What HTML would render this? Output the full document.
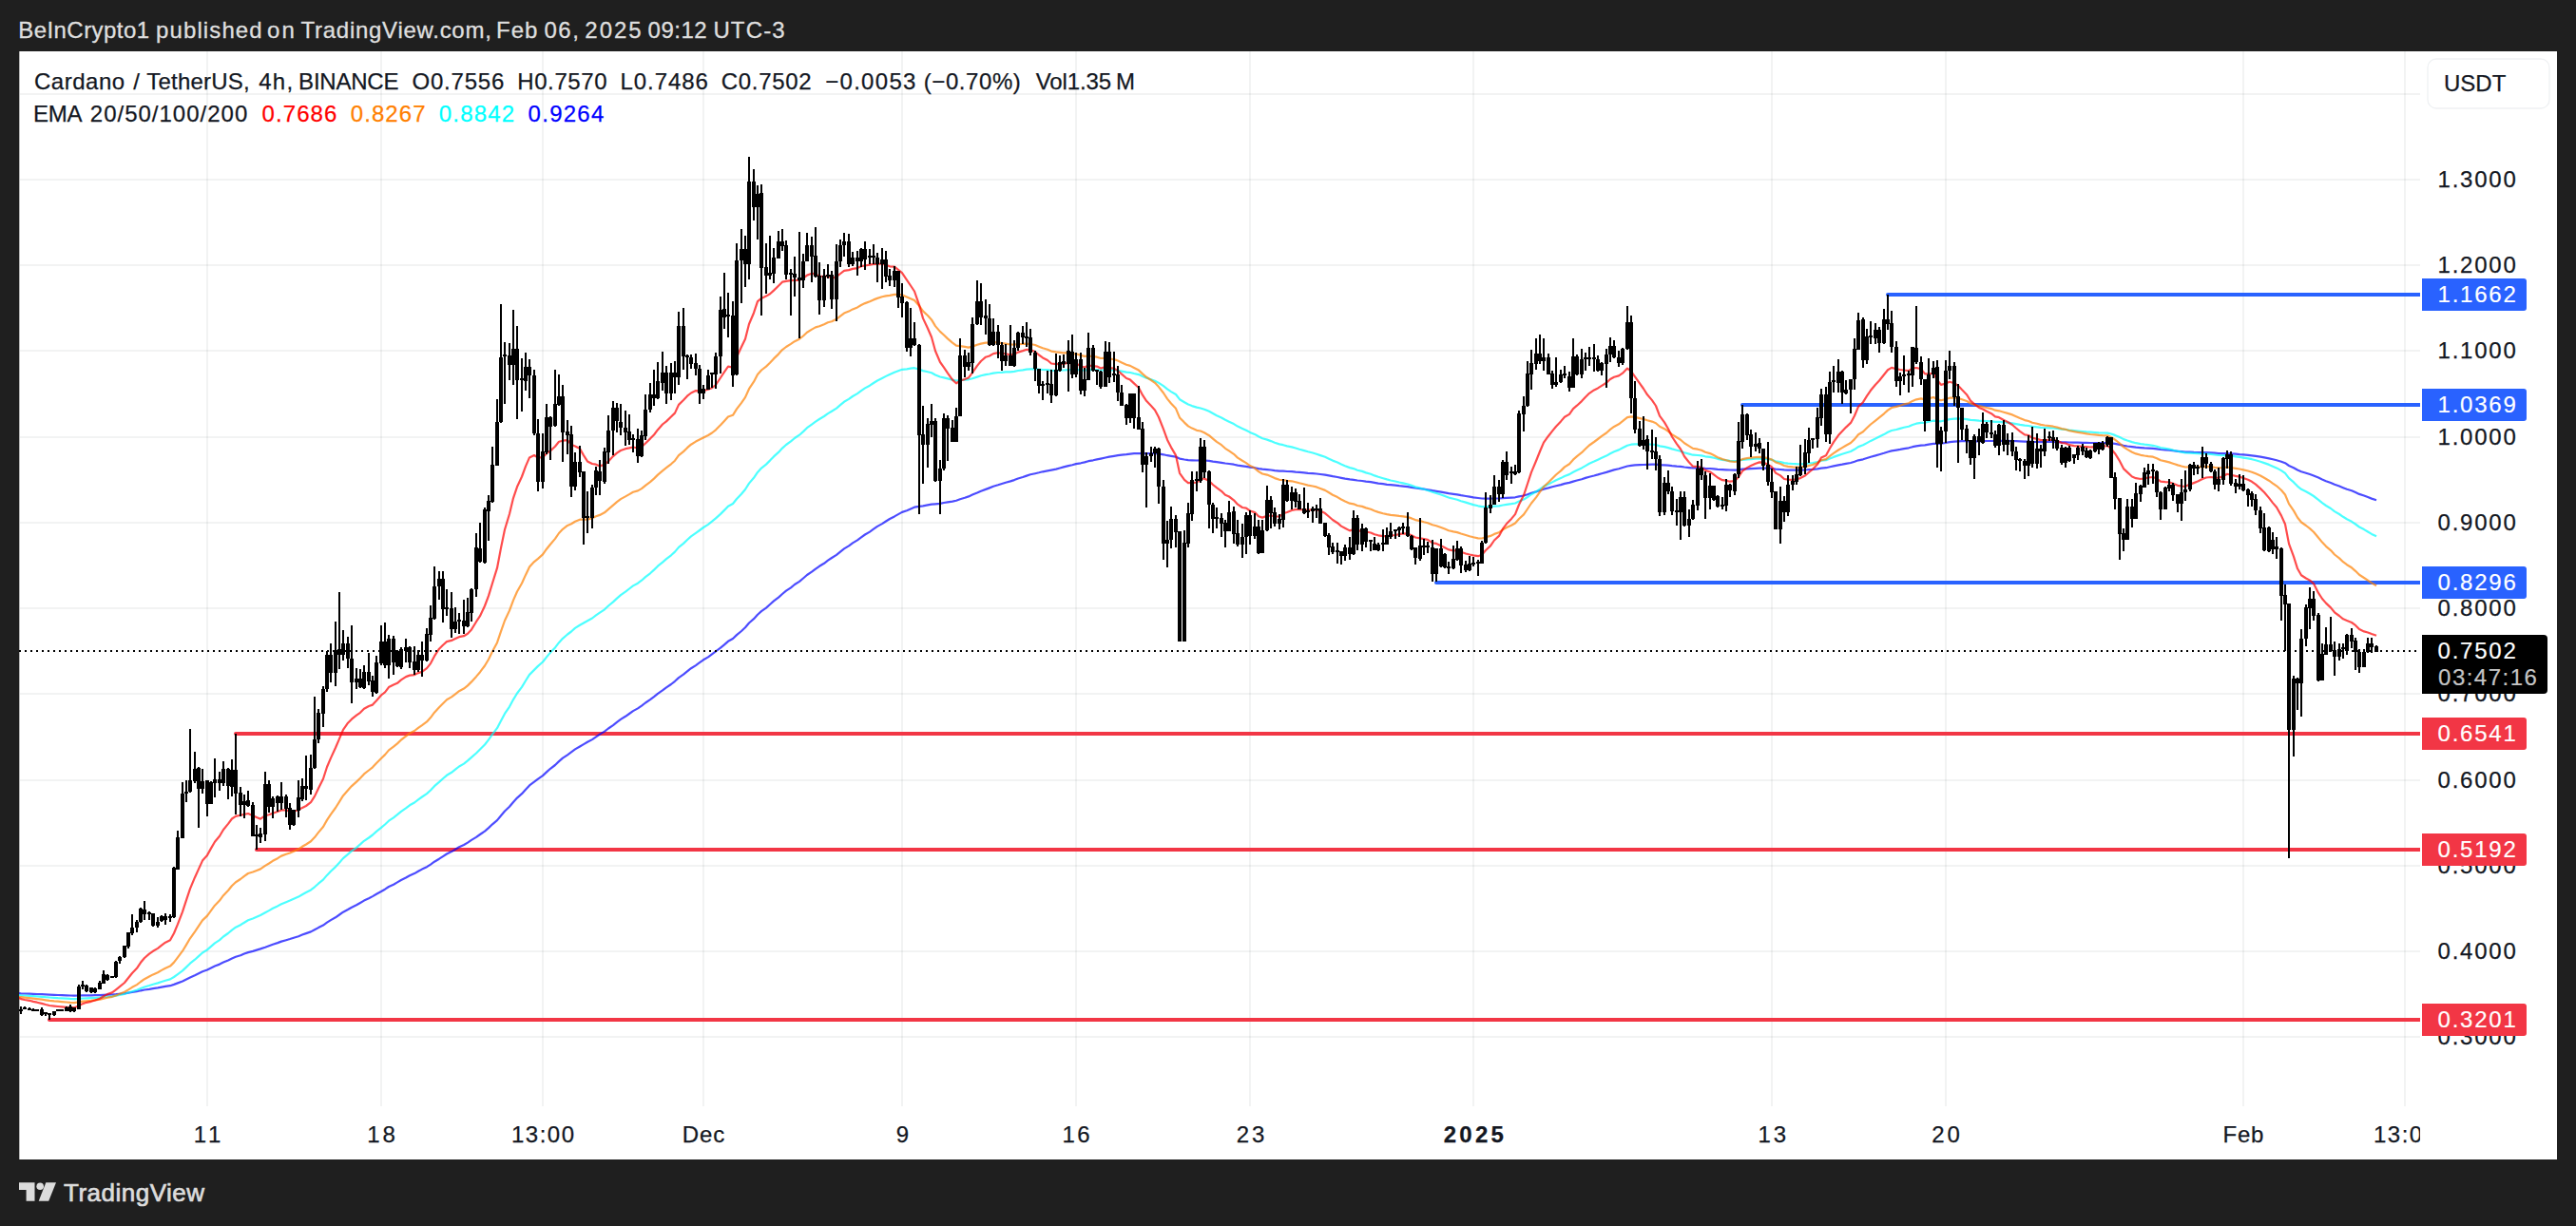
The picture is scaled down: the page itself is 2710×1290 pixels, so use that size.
<!DOCTYPE html><html><head><meta charset="utf-8"><title>ADAUSDT chart</title>
<style>html,body{margin:0;padding:0;background:#1f1f1f;}body{width:2710px;height:1290px;overflow:hidden}svg{display:block}text{font-family:"Liberation Sans", Arial, sans-serif;font-size:24px}.d{stroke:#131722;stroke-width:0.25px}</style></head><body>
<svg width="2710" height="1290" viewBox="0 0 2710 1290">
<rect x="0" y="0" width="2710" height="1290" fill="#1f1f1f"/>
<rect x="20" y="54" width="2670" height="1166" fill="#ffffff"/>
<text x="19.2" y="40" fill="#dedede" stroke="#dedede" stroke-width="0.35" letter-spacing="0.450">BeInCrypto1</text>
<text x="164.0" y="40" fill="#dedede" stroke="#dedede" stroke-width="0.35" letter-spacing="1.112">published</text>
<text x="281.1" y="40" fill="#dedede" stroke="#dedede" stroke-width="0.35" letter-spacing="2.100">on</text>
<text x="316.6" y="40" fill="#dedede" stroke="#dedede" stroke-width="0.35" letter-spacing="0.720">TradingView.com,</text>
<text x="522.1" y="40" fill="#dedede" stroke="#dedede" stroke-width="0.35" letter-spacing="1.000">Feb</text>
<text x="572.5" y="40" fill="#dedede" stroke="#dedede" stroke-width="0.35" letter-spacing="1.500">06,</text>
<text x="615.3" y="40" fill="#dedede" stroke="#dedede" stroke-width="0.35" letter-spacing="2.000">2025</text>
<text x="681.6" y="40" fill="#dedede" stroke="#dedede" stroke-width="0.35" letter-spacing="0.500">09:12</text>
<text x="750.4" y="40" fill="#dedede" stroke="#dedede" stroke-width="0.35" letter-spacing="1.150">UTC-3</text>
<path d="M20 99H2546M20 189H2546M20 279H2546M20 369H2546M20 460H2546M20 550H2546M20 640H2546M20 730H2546M20 821H2546M20 911H2546M20 1001H2546M20 1091H2546" stroke="#2a3a3a" stroke-opacity="0.062" stroke-width="2" fill="none"/>
<path d="M218 54V1164M401 54V1164M571 54V1164M740 54V1164M949 54V1164M1132 54V1164M1315 54V1164M1550 54V1164M1864 54V1164M2047 54V1164M2360 54V1164M2530 54V1164" stroke="#2a3a3a" stroke-opacity="0.062" stroke-width="2" fill="none"/>
<path d="M20.5 54V1220" stroke="#b8b8b8" stroke-width="1" fill="none"/>
<defs><clipPath id="pane"><rect x="20" y="54" width="2526" height="1110"/></clipPath><clipPath id="tax"><rect x="20" y="1164" width="2526" height="56"/></clipPath></defs>
<text class="d" x="2564.6" y="197.3" fill="#131722" letter-spacing="1.75">1.3000</text>
<text class="d" x="2564.6" y="287.3" fill="#131722" letter-spacing="1.75">1.2000</text>
<text class="d" x="2564.6" y="377.3" fill="#131722" letter-spacing="1.75">1.1000</text>
<text class="d" x="2564.6" y="468.3" fill="#131722" letter-spacing="1.75">1.0000</text>
<text class="d" x="2564.6" y="558.3" fill="#131722" letter-spacing="1.75">0.9000</text>
<text class="d" x="2564.6" y="648.3" fill="#131722" letter-spacing="1.75">0.8000</text>
<text class="d" x="2564.6" y="738.3" fill="#131722" letter-spacing="1.75">0.7000</text>
<text class="d" x="2564.6" y="829.3" fill="#131722" letter-spacing="1.75">0.6000</text>
<text class="d" x="2564.6" y="919.3" fill="#131722" letter-spacing="1.75">0.5000</text>
<text class="d" x="2564.6" y="1009.3" fill="#131722" letter-spacing="1.75">0.4000</text>
<text class="d" x="2564.6" y="1099.3" fill="#131722" letter-spacing="1.75">0.3000</text>
<g clip-path="url(#tax)">
<text class="d" x="218.0" y="1201.5" text-anchor="middle" fill="#131722" textLength="28.5" lengthAdjust="spacing">11</text>
<text class="d" x="401.0" y="1201.5" text-anchor="middle" fill="#131722" textLength="29.5" lengthAdjust="spacing">18</text>
<text class="d" x="571.0" y="1201.5" text-anchor="middle" fill="#131722" textLength="66.0" lengthAdjust="spacing">13:00</text>
<text class="d" x="740.0" y="1201.5" text-anchor="middle" fill="#131722" textLength="44.3" lengthAdjust="spacing">Dec</text>
<text class="d" x="949.4" y="1201.5" text-anchor="middle" fill="#131722" textLength="13.4" lengthAdjust="spacing">9</text>
<text class="d" x="1132.0" y="1201.5" text-anchor="middle" fill="#131722" textLength="29.0" lengthAdjust="spacing">16</text>
<text class="d" x="1315.5" y="1201.5" text-anchor="middle" fill="#131722" textLength="29.5" lengthAdjust="spacing">23</text>
<text class="d" x="1550.3" y="1201.5" text-anchor="middle" fill="#131722" textLength="63.0" lengthAdjust="spacing" font-weight="bold">2025</text>
<text class="d" x="1864.3" y="1201.5" text-anchor="middle" fill="#131722" textLength="29.5" lengthAdjust="spacing">13</text>
<text class="d" x="2047.0" y="1201.5" text-anchor="middle" fill="#131722" textLength="29.5" lengthAdjust="spacing">20</text>
<text class="d" x="2360.0" y="1201.5" text-anchor="middle" fill="#131722" textLength="42.8" lengthAdjust="spacing">Feb</text>
<text class="d" x="2530.0" y="1201.5" text-anchor="middle" fill="#131722" textLength="66.0" lengthAdjust="spacing">13:00</text>
</g>
<g clip-path="url(#pane)">
<path d="M1986 310H2550" stroke="#2962ff" stroke-width="4" stroke-linecap="round" fill="none"/>
<path d="M1833 426H2550" stroke="#2962ff" stroke-width="4" stroke-linecap="round" fill="none"/>
<path d="M1511 613H2550" stroke="#2962ff" stroke-width="4" stroke-linecap="round" fill="none"/>
<path d="M248 772H2550" stroke="#f23645" stroke-width="4" stroke-linecap="round" fill="none"/>
<path d="M270 894H2550" stroke="#f23645" stroke-width="4" stroke-linecap="round" fill="none"/>
<path d="M52 1073H2550" stroke="#f23645" stroke-width="4" stroke-linecap="round" fill="none"/>
<polyline points="20,1045.2 22,1045.4 26,1045.5 31,1045.7 35,1045.8 39,1046.0 44,1046.2 48,1046.4 52,1046.6 57,1046.8 61,1047.0 65,1047.1 70,1047.3 74,1047.5 78,1047.6 83,1047.5 87,1047.4 91,1047.4 96,1047.3 100,1047.2 105,1047.1 109,1046.9 113,1046.7 118,1046.5 122,1046.2 126,1045.8 131,1045.3 135,1044.6 139,1044.0 144,1043.2 148,1042.3 152,1041.5 157,1040.8 161,1040.1 166,1039.4 170,1038.6 174,1037.9 179,1037.2 183,1035.9 187,1034.4 192,1032.4 196,1030.4 200,1028.4 205,1026.2 209,1024.2 213,1022.2 218,1020.5 222,1018.5 226,1016.5 231,1014.6 235,1012.6 240,1010.5 244,1008.5 248,1006.8 253,1005.2 257,1003.6 261,1002.1 266,1000.9 270,999.6 274,998.4 279,996.7 283,995.2 287,993.7 292,992.1 296,990.6 301,989.2 305,988.0 309,986.7 314,985.2 318,983.6 322,982.1 327,980.4 331,978.3 335,976.1 340,973.6 344,970.7 348,968.1 353,965.3 357,962.5 361,959.7 366,957.0 370,954.7 375,952.3 379,950.0 383,947.6 388,945.3 392,943.1 396,940.7 401,938.0 405,935.7 409,933.0 414,930.7 418,928.4 422,926.0 427,923.5 431,921.3 436,919.1 440,916.8 444,914.6 449,912.2 453,909.6 457,906.7 462,903.7 466,901.1 470,898.5 475,896.1 479,893.7 483,891.3 488,889.0 492,886.6 496,883.9 501,880.9 505,878.0 510,874.6 514,871.1 518,867.3 523,863.1 527,858.3 531,853.5 536,848.8 540,844.0 544,839.6 549,835.2 553,830.7 557,826.4 562,822.7 566,819.6 571,816.1 575,812.4 579,808.8 584,805.0 588,801.1 592,797.6 597,794.3 601,791.4 605,788.4 610,785.5 614,783.1 618,780.8 623,778.1 627,775.3 631,772.6 636,769.6 640,766.5 645,763.1 649,759.9 653,756.9 658,753.8 662,751.0 666,748.1 671,745.4 675,742.6 679,739.5 684,736.2 688,733.1 692,729.8 697,726.4 701,723.3 706,720.0 710,716.8 714,713.1 719,709.7 723,706.4 727,703.2 732,700.1 736,697.2 740,694.3 745,691.4 749,688.4 753,685.3 758,681.7 762,678.3 766,674.8 771,672.0 775,668.1 780,664.0 784,660.2 788,655.5 793,651.2 797,646.7 801,643.1 806,639.6 810,636.0 814,632.4 819,628.6 823,625.0 827,621.6 832,618.3 836,615.0 841,611.9 845,608.5 849,605.0 854,601.7 858,598.6 862,595.8 867,592.8 871,589.7 875,587.0 880,583.9 884,580.6 888,577.4 893,574.4 897,571.4 902,568.4 906,565.4 910,562.5 915,559.6 919,556.7 923,553.9 928,551.1 932,548.5 936,546.0 941,543.4 945,541.1 949,538.9 954,537.2 958,535.4 962,533.7 967,532.9 971,532.3 976,531.4 980,530.6 984,530.3 989,529.9 993,529.0 997,528.3 1002,527.6 1006,526.7 1010,525.2 1015,523.8 1019,522.4 1023,520.6 1028,518.6 1032,516.7 1037,514.9 1041,513.4 1045,511.8 1050,510.3 1054,509.0 1058,507.7 1063,506.4 1067,505.1 1071,503.5 1076,502.0 1080,500.6 1084,499.3 1089,498.2 1093,497.3 1097,496.3 1102,495.4 1106,494.6 1111,493.6 1115,492.5 1119,491.4 1124,490.1 1128,489.2 1132,488.1 1137,487.3 1141,486.4 1145,485.2 1150,484.3 1154,483.4 1158,482.6 1163,481.5 1167,480.7 1172,479.8 1176,479.1 1180,478.6 1185,478.2 1189,477.6 1193,477.2 1198,477.0 1202,477.1 1206,477.1 1211,477.1 1215,477.1 1219,477.4 1224,478.3 1228,479.2 1232,479.9 1237,480.7 1241,482.6 1246,483.5 1250,484.1 1254,484.3 1259,484.5 1263,484.4 1267,484.5 1272,484.9 1276,485.6 1280,486.1 1285,486.8 1289,487.5 1293,488.0 1298,488.7 1302,489.6 1307,490.3 1311,490.8 1315,491.6 1320,492.2 1324,493.1 1328,493.7 1333,494.1 1337,494.5 1341,495.1 1346,495.6 1350,495.7 1354,496.0 1359,496.2 1363,496.6 1367,496.9 1372,497.4 1376,497.8 1381,498.1 1385,498.5 1389,499.0 1394,499.7 1398,500.4 1402,501.2 1407,502.0 1411,502.8 1415,503.6 1420,504.4 1424,504.8 1428,505.5 1433,506.0 1437,506.6 1442,507.2 1446,507.9 1450,508.6 1455,509.2 1459,509.8 1463,510.2 1468,510.7 1472,511.2 1476,511.6 1481,512.1 1485,512.8 1489,513.5 1494,514.1 1498,514.7 1502,515.3 1507,516.2 1511,516.8 1516,517.6 1520,518.4 1524,519.2 1529,519.9 1533,520.4 1537,521.2 1542,522.0 1546,522.7 1550,523.4 1555,524.0 1559,524.5 1563,524.6 1568,524.7 1572,524.5 1577,524.5 1581,524.1 1585,523.9 1590,523.6 1594,523.3 1598,522.4 1603,521.5 1607,520.2 1611,518.8 1616,517.4 1620,516.0 1624,514.6 1629,513.4 1633,512.3 1637,511.2 1642,510.1 1646,508.9 1651,507.9 1655,506.6 1659,505.5 1664,504.2 1668,502.9 1672,501.7 1677,500.5 1681,499.4 1685,498.2 1690,496.9 1694,495.6 1698,494.4 1703,493.3 1707,492.0 1712,490.5 1716,489.8 1720,489.4 1725,489.2 1729,489.0 1733,488.8 1738,488.7 1742,488.7 1746,489.2 1751,489.3 1755,489.6 1759,490.1 1764,490.6 1768,490.9 1772,491.5 1777,492.1 1781,492.5 1786,492.5 1790,492.5 1794,492.9 1799,493.0 1803,493.4 1807,493.8 1812,494.1 1816,494.3 1820,494.5 1825,494.6 1829,494.3 1833,493.7 1838,493.3 1842,493.1 1847,492.8 1851,492.6 1855,492.6 1860,492.7 1864,493.0 1868,493.6 1873,494.0 1877,494.4 1881,494.6 1886,494.7 1890,494.7 1894,494.7 1899,494.5 1903,494.2 1907,493.9 1912,493.3 1916,492.6 1921,492.2 1925,491.3 1929,490.4 1934,489.4 1938,488.7 1942,487.9 1947,487.0 1951,485.8 1955,484.3 1960,483.3 1964,482.0 1968,480.7 1973,479.4 1977,478.2 1982,476.8 1986,475.5 1990,474.4 1995,473.6 1999,472.9 2003,472.1 2008,471.3 2012,470.2 2016,469.4 2021,468.7 2025,468.4 2029,467.7 2034,466.9 2038,466.9 2042,466.7 2047,466.0 2051,465.2 2056,464.7 2060,464.3 2064,464.2 2069,464.2 2073,464.4 2077,464.3 2082,464.3 2086,464.1 2090,464.0 2095,464.0 2099,464.0 2103,463.9 2108,463.9 2112,463.9 2117,464.0 2121,464.2 2125,464.4 2130,464.7 2134,464.7 2138,464.9 2143,465.0 2147,465.1 2151,465.0 2156,465.0 2160,465.0 2164,465.1 2169,465.3 2173,465.3 2177,465.5 2182,465.7 2186,465.7 2191,465.8 2195,465.9 2199,466.0 2204,466.0 2208,466.0 2212,466.0 2217,466.0 2221,466.3 2225,466.9 2230,467.9 2234,468.8 2238,469.5 2243,470.2 2247,470.7 2252,471.1 2256,471.4 2260,471.6 2265,471.9 2269,472.3 2273,473.0 2278,473.4 2282,473.7 2286,474.2 2291,474.8 2295,475.2 2299,475.6 2304,475.7 2308,475.9 2312,476.0 2317,476.1 2321,476.2 2326,476.4 2330,476.7 2334,477.0 2339,477.1 2343,477.1 2347,477.4 2352,477.7 2356,478.1 2360,478.4 2365,478.9 2369,479.3 2373,479.9 2378,480.7 2382,481.4 2387,482.4 2391,483.3 2395,484.3 2400,485.7 2404,487.2 2408,490.0 2413,492.2 2417,494.5 2421,496.2 2426,497.7 2430,499.0 2434,500.5 2439,502.6 2443,504.5 2447,506.2 2452,508.0 2456,509.8 2461,511.5 2465,513.2 2469,514.8 2474,516.3 2478,518.0 2482,519.9 2487,521.5 2491,523.1 2495,524.6 2500,526.2" stroke="#0000ff" stroke-width="2.2" stroke-opacity="0.7" fill="none" stroke-linejoin="round"/>
<polyline points="20,1047.0 22,1047.3 26,1047.5 31,1047.8 35,1048.1 39,1048.4 44,1048.8 48,1049.2 52,1049.5 57,1049.8 61,1050.1 65,1050.3 70,1050.6 74,1050.9 78,1051.1 83,1050.8 87,1050.5 91,1050.4 96,1050.2 100,1050.0 105,1049.7 109,1049.2 113,1048.8 118,1048.4 122,1047.6 126,1046.8 131,1045.8 135,1044.5 139,1043.2 144,1041.7 148,1040.0 152,1038.5 157,1037.0 161,1035.7 166,1034.4 170,1033.0 174,1031.7 179,1030.4 183,1028.0 187,1025.1 192,1021.4 196,1017.6 200,1013.7 205,1009.7 209,1006.1 213,1002.5 218,999.4 222,995.9 226,992.4 231,989.1 235,985.5 240,982.0 244,978.6 248,975.7 253,973.2 257,970.7 261,968.3 266,966.5 270,964.8 274,963.0 279,960.3 283,958.1 287,955.8 292,953.4 296,951.2 301,949.2 305,947.6 309,945.7 314,943.6 318,941.2 322,939.0 327,936.4 331,933.3 335,929.7 340,925.6 344,920.9 348,916.7 353,912.1 357,907.7 361,903.1 366,898.9 370,895.4 375,891.8 379,888.4 383,884.8 388,881.5 392,878.5 396,874.9 401,870.9 405,867.5 409,863.7 414,860.4 418,857.2 422,853.8 427,850.4 431,847.3 436,844.5 440,841.4 444,838.5 449,835.1 453,831.5 457,827.2 462,822.9 466,819.3 470,815.8 475,812.8 479,809.6 483,806.5 488,803.6 492,800.4 496,796.9 501,792.5 505,788.5 510,783.5 514,778.4 518,772.7 523,766.2 527,758.5 531,750.9 536,743.6 540,736.1 544,729.5 549,722.9 553,716.3 557,709.9 562,704.9 566,700.9 571,696.5 575,691.4 579,686.6 584,681.4 588,676.2 592,671.8 597,667.5 601,664.5 605,660.9 610,657.7 614,655.5 618,653.3 623,650.5 627,647.4 631,644.6 636,641.3 640,637.5 645,633.4 649,629.6 653,626.1 658,622.7 662,619.5 666,616.4 671,613.7 675,610.7 679,607.1 684,603.3 688,599.6 692,595.7 697,591.7 701,588.2 706,584.3 710,580.6 714,575.9 719,571.9 723,568.0 727,564.4 732,560.9 736,558.0 740,555.0 745,551.9 749,548.7 753,545.3 758,540.9 762,536.9 766,532.8 771,530.0 775,525.0 780,519.8 784,515.0 788,508.6 793,502.8 797,496.9 801,492.6 806,488.6 810,484.6 814,480.4 819,475.9 823,471.6 827,468.0 832,464.4 836,461.0 841,457.7 845,454.1 849,450.2 854,446.6 858,443.6 862,441.0 867,438.0 871,435.1 875,432.7 880,429.6 884,426.2 888,422.8 893,419.9 897,417.0 902,414.1 906,411.1 910,408.4 915,405.7 919,403.0 923,400.5 928,398.0 932,395.9 936,393.9 941,391.7 945,390.2 949,388.8 954,388.3 958,387.7 962,387.2 967,388.6 971,390.1 976,391.3 980,392.3 984,394.5 989,396.5 993,397.4 997,398.4 1002,399.7 1006,400.5 1010,400.0 1015,399.7 1019,399.3 1023,398.2 1028,396.6 1032,395.3 1037,394.1 1041,393.5 1045,392.6 1050,392.0 1054,391.8 1058,391.4 1063,391.3 1067,390.8 1071,390.0 1076,389.3 1080,388.6 1084,388.3 1089,388.3 1093,388.7 1097,389.0 1102,389.2 1106,389.8 1111,389.8 1115,389.6 1119,389.5 1124,389.1 1128,389.2 1132,388.9 1137,389.4 1141,389.6 1145,389.1 1150,389.1 1154,389.2 1158,389.5 1163,389.1 1167,389.3 1172,389.4 1176,389.9 1180,390.6 1185,391.6 1189,392.0 1193,393.0 1198,394.1 1202,396.0 1206,397.7 1211,399.2 1215,400.7 1219,402.9 1224,406.2 1228,409.4 1232,412.1 1237,415.0 1241,420.2 1246,423.2 1250,425.5 1254,427.1 1259,428.6 1263,429.5 1267,430.8 1272,432.8 1276,435.0 1280,437.2 1285,439.5 1289,441.8 1293,443.7 1298,446.1 1302,448.6 1307,450.9 1311,452.7 1315,454.9 1320,456.9 1324,459.3 1328,461.3 1333,462.6 1337,464.1 1341,465.8 1346,467.4 1350,468.2 1354,469.4 1359,470.4 1363,471.5 1367,472.8 1372,474.1 1376,475.3 1381,476.5 1385,477.7 1389,479.1 1394,480.8 1398,482.7 1402,484.6 1407,486.5 1411,488.5 1415,490.2 1420,492.1 1424,493.1 1428,494.7 1433,495.9 1437,497.4 1442,498.8 1446,500.4 1450,501.8 1455,503.2 1459,504.4 1463,505.5 1468,506.5 1472,507.5 1476,508.4 1481,509.5 1485,510.9 1489,512.4 1494,513.6 1498,514.8 1502,516.0 1507,517.7 1511,518.9 1516,520.5 1520,522.0 1524,523.5 1529,524.8 1533,525.8 1537,527.2 1542,528.6 1546,529.9 1550,531.1 1555,532.3 1559,533.1 1563,533.1 1568,533.1 1572,532.7 1577,532.4 1581,531.5 1585,530.9 1590,530.2 1594,529.5 1598,527.6 1603,525.6 1607,523.0 1611,520.2 1616,517.3 1620,514.6 1624,511.8 1629,509.5 1633,507.4 1637,505.3 1642,503.1 1646,501.0 1651,499.1 1655,496.7 1659,494.7 1664,492.4 1668,490.1 1672,487.8 1677,485.6 1681,483.7 1685,481.7 1690,479.6 1694,477.3 1698,475.3 1703,473.4 1707,471.3 1712,468.7 1716,467.7 1720,467.4 1725,467.4 1729,467.3 1733,467.5 1738,467.7 1742,468.0 1746,469.4 1751,470.1 1755,471.1 1759,472.4 1764,473.7 1768,474.7 1772,476.3 1777,477.6 1781,478.7 1786,479.0 1790,479.4 1794,480.3 1799,480.9 1803,481.8 1807,482.8 1812,483.8 1816,484.3 1820,484.9 1825,485.2 1829,484.8 1833,483.8 1838,483.3 1842,483.1 1847,482.7 1851,482.5 1855,482.7 1860,483.2 1864,483.8 1868,485.3 1873,486.1 1877,487.1 1881,487.6 1886,488.0 1890,488.2 1894,488.3 1899,488.0 1903,487.5 1907,487.1 1912,486.1 1916,484.7 1921,484.2 1925,482.5 1929,480.9 1934,479.1 1938,477.8 1942,476.5 1947,475.0 1951,472.8 1955,470.1 1960,468.3 1964,466.1 1968,463.9 1973,461.6 1977,459.6 1982,457.1 1986,454.8 1990,453.0 1995,452.0 1999,450.9 2003,449.8 2008,448.7 2012,447.0 2016,445.7 2021,444.8 2025,444.8 2029,443.7 2034,442.6 2038,443.1 2042,443.3 2047,442.2 2051,441.1 2056,440.7 2060,440.4 2064,440.6 2069,441.1 2073,441.9 2077,442.2 2082,442.7 2086,442.8 2090,443.0 2095,443.3 2099,443.8 2103,443.9 2108,444.3 2112,444.7 2117,445.3 2121,446.1 2125,446.9 2130,447.7 2134,448.0 2138,448.8 2143,449.3 2147,449.8 2151,450.0 2156,450.3 2160,450.5 2164,451.0 2169,451.7 2173,452.0 2177,452.7 2182,453.2 2186,453.6 2191,454.0 2195,454.4 2199,454.7 2204,455.0 2208,455.3 2212,455.5 2217,455.6 2221,456.5 2225,457.9 2230,460.0 2234,462.1 2238,463.5 2243,465.1 2247,466.2 2252,467.1 2256,467.7 2260,468.2 2265,468.8 2269,469.8 2273,471.1 2278,471.9 2282,472.6 2286,473.6 2291,474.7 2295,475.6 2299,476.4 2304,476.6 2308,476.9 2312,477.2 2317,477.3 2321,477.5 2326,477.9 2330,478.5 2334,479.0 2339,479.1 2343,479.1 2347,479.7 2352,480.3 2356,480.9 2360,481.6 2365,482.4 2369,483.2 2373,484.3 2378,485.7 2382,487.1 2387,488.9 2391,490.7 2395,492.4 2400,495.1 2404,497.9 2408,503.2 2413,507.4 2417,511.6 2421,514.8 2426,517.2 2430,519.5 2434,522.0 2439,525.8 2443,529.1 2447,532.0 2452,535.0 2456,538.1 2461,541.0 2465,543.8 2469,546.3 2474,548.8 2478,551.5 2482,554.5 2487,557.1 2491,559.5 2495,561.9 2500,564.3" stroke="#00ffff" stroke-width="2.2" stroke-opacity="0.7" fill="none" stroke-linejoin="round"/>
<polyline points="20,1048.7 22,1049.2 26,1049.6 31,1050.1 35,1050.6 39,1051.1 44,1051.7 48,1052.3 52,1052.9 57,1053.4 61,1053.7 65,1054.1 70,1054.5 74,1054.9 78,1055.1 83,1054.4 87,1053.7 91,1053.3 96,1052.9 100,1052.4 105,1051.7 109,1050.6 113,1049.7 118,1048.8 122,1047.4 126,1045.8 131,1043.8 135,1041.4 139,1038.8 144,1036.1 148,1033.0 152,1030.2 157,1027.5 161,1025.4 166,1023.3 170,1020.9 174,1018.7 179,1016.6 183,1012.6 187,1007.4 192,1000.7 196,994.1 200,987.3 205,980.3 209,974.4 213,968.4 218,963.6 222,958.1 226,952.7 231,947.6 235,942.2 240,937.0 244,932.0 248,928.2 253,925.0 257,921.9 261,919.0 266,917.5 270,915.9 274,914.4 279,910.9 283,908.5 287,905.8 292,903.2 296,900.6 301,898.7 305,897.5 309,895.7 314,893.5 318,890.8 322,888.5 327,885.3 331,881.1 335,875.9 340,870.0 344,862.9 348,856.8 353,850.0 357,843.7 361,837.2 366,831.5 370,827.1 375,822.6 379,818.7 383,814.4 388,810.5 392,807.3 396,803.0 401,798.0 405,794.1 409,789.4 414,785.7 418,782.4 422,778.5 427,774.7 431,771.6 436,769.0 440,765.9 444,763.1 449,759.4 453,755.1 457,749.7 462,744.2 466,740.2 470,736.3 475,733.4 479,730.3 483,727.2 488,724.6 492,721.4 496,717.4 501,711.9 505,707.2 510,700.5 514,693.7 518,685.6 523,676.2 527,664.4 531,653.0 536,642.4 540,631.6 544,622.5 549,613.8 553,604.9 557,596.6 562,591.1 566,587.8 571,583.4 575,577.7 579,572.7 584,566.9 588,561.0 592,556.8 597,552.9 601,551.3 605,548.8 610,546.7 614,546.7 618,546.6 623,545.3 627,543.3 631,541.9 636,539.3 640,535.9 645,531.7 649,528.2 653,525.1 658,522.4 662,520.1 666,517.8 671,516.4 675,514.1 679,510.8 684,507.1 688,503.6 692,499.6 697,495.4 701,492.2 706,488.3 710,484.7 714,479.2 719,475.1 723,471.2 727,467.7 732,464.6 736,462.6 740,460.5 745,458.0 749,455.5 753,452.3 758,447.3 762,442.9 766,438.5 771,436.8 775,430.4 780,423.8 784,418.1 788,409.2 793,401.7 797,393.9 801,389.5 806,385.6 810,381.8 814,377.4 819,372.6 823,368.1 827,365.0 832,361.9 836,359.2 841,356.7 845,353.5 849,349.7 854,346.6 858,344.4 862,343.3 867,341.2 871,339.2 875,338.3 880,335.8 884,332.7 888,329.6 893,327.6 897,325.4 902,323.4 906,321.0 910,319.1 915,317.2 919,315.4 923,313.9 928,312.3 932,311.4 936,310.8 941,309.8 945,309.9 949,310.3 954,312.5 958,314.2 962,316.1 967,321.7 971,327.4 976,332.0 980,336.4 984,343.1 989,348.9 993,352.5 997,356.4 1002,360.6 1006,363.7 1010,364.1 1015,364.9 1019,365.6 1023,364.6 1028,362.7 1032,361.6 1037,360.6 1041,360.7 1045,360.2 1050,360.3 1054,361.1 1058,361.6 1063,362.5 1067,362.6 1071,362.1 1076,361.9 1080,361.6 1084,362.0 1089,363.0 1093,364.7 1097,366.3 1102,367.7 1106,369.6 1111,370.4 1115,370.8 1119,371.3 1124,371.2 1128,372.1 1132,372.3 1137,373.9 1141,374.9 1145,374.5 1150,375.1 1154,375.7 1158,377.0 1163,376.7 1167,377.5 1172,378.1 1176,379.5 1180,381.4 1185,383.7 1189,384.9 1193,387.0 1198,389.6 1202,393.4 1206,396.8 1211,400.0 1215,402.8 1219,407.1 1224,413.5 1228,419.6 1232,424.5 1237,429.8 1241,439.4 1246,444.6 1250,448.4 1254,450.6 1259,452.8 1263,453.5 1267,455.2 1272,458.2 1276,461.6 1280,464.9 1285,468.2 1289,471.8 1293,474.4 1298,477.8 1302,481.6 1307,484.8 1311,487.1 1315,490.1 1320,492.6 1324,496.1 1328,498.5 1333,499.6 1337,501.2 1341,503.1 1346,504.8 1350,505.0 1354,505.9 1359,506.3 1363,507.2 1367,508.3 1372,509.5 1376,510.6 1381,511.5 1385,512.4 1389,514.0 1394,515.9 1398,518.3 1402,520.7 1407,523.1 1411,525.5 1415,527.5 1420,529.7 1424,530.3 1428,532.0 1433,532.9 1437,534.4 1442,535.8 1446,537.5 1450,538.9 1455,540.2 1459,541.1 1463,541.8 1468,542.4 1472,542.9 1476,543.3 1481,544.1 1485,545.4 1489,547.1 1494,548.1 1498,549.2 1502,550.2 1507,552.3 1511,553.3 1516,555.0 1520,556.6 1524,558.2 1529,559.4 1533,560.1 1537,561.5 1542,563.0 1546,564.2 1550,565.3 1555,566.4 1559,566.5 1563,565.3 1568,563.9 1572,561.9 1577,560.2 1581,557.3 1585,555.1 1590,552.8 1594,550.5 1598,546.0 1603,541.4 1607,535.5 1611,529.5 1616,523.4 1620,517.7 1624,512.2 1629,507.5 1633,503.5 1637,499.5 1642,495.4 1646,491.4 1651,488.2 1655,483.7 1659,480.2 1664,476.2 1668,472.3 1672,468.5 1677,465.0 1681,462.0 1685,458.9 1690,455.5 1694,451.9 1698,448.9 1703,446.3 1707,443.2 1712,439.1 1716,438.3 1720,438.9 1725,440.1 1729,441.0 1733,442.3 1738,443.6 1742,445.2 1746,448.8 1751,451.2 1755,453.8 1759,457.1 1764,460.3 1768,462.7 1772,466.3 1777,469.4 1781,471.9 1786,472.7 1790,473.8 1794,475.8 1799,477.1 1803,479.1 1807,481.2 1812,483.1 1816,484.2 1820,485.4 1825,486.0 1829,485.1 1833,483.2 1838,482.2 1842,481.7 1847,481.2 1851,480.8 1855,481.2 1860,482.2 1864,483.6 1868,486.4 1873,488.0 1877,490.0 1881,490.8 1886,491.4 1890,491.7 1894,491.7 1899,491.1 1903,490.0 1907,489.0 1912,487.0 1916,484.2 1921,483.1 1925,479.9 1929,476.9 1934,473.5 1938,471.1 1942,468.7 1947,466.0 1951,462.1 1955,457.2 1960,454.2 1964,450.2 1968,446.5 1973,442.6 1977,439.4 1982,435.3 1986,431.6 1990,429.0 1995,427.9 1999,426.7 2003,425.4 2008,424.2 2012,421.9 2016,420.3 2021,419.4 2025,420.4 2029,419.3 2034,418.0 2038,420.0 2042,421.3 2047,420.0 2051,418.7 2056,418.6 2060,419.0 2064,420.3 2069,422.0 2073,424.4 2077,425.7 2082,427.2 2086,428.0 2090,429.0 2095,430.1 2099,431.7 2103,432.3 2108,433.7 2112,434.9 2117,436.4 2121,438.3 2125,440.1 2130,442.1 2134,443.0 2138,444.7 2143,445.8 2147,446.9 2151,447.5 2156,448.1 2160,448.7 2164,449.6 2169,451.1 2173,451.8 2177,453.2 2182,454.1 2186,454.8 2191,455.6 2195,456.3 2199,457.0 2204,457.3 2208,457.9 2212,458.2 2217,458.3 2221,460.0 2225,462.6 2230,466.5 2234,470.4 2238,472.9 2243,475.7 2247,477.4 2252,478.8 2256,479.5 2260,480.1 2265,480.7 2269,482.2 2273,484.3 2278,485.4 2282,486.4 2286,487.7 2291,489.4 2295,490.5 2299,491.5 2304,491.4 2308,491.5 2312,491.5 2317,491.1 2321,490.9 2326,491.2 2330,491.9 2334,492.4 2339,492.0 2343,491.5 2347,492.1 2352,492.9 2356,493.5 2360,494.4 2365,495.5 2369,496.7 2373,498.3 2378,500.5 2382,502.7 2387,505.7 2391,508.6 2395,511.3 2400,515.8 2404,520.5 2408,530.2 2413,537.4 2417,544.5 2421,549.5 2426,553.0 2430,556.1 2434,559.7 2439,565.8 2443,570.6 2447,574.8 2452,579.1 2456,583.5 2461,587.4 2465,591.2 2469,594.2 2474,597.3 2478,600.8 2482,604.8 2487,608.0 2491,610.7 2495,613.4 2500,616.2" stroke="#ff8000" stroke-width="2.2" stroke-opacity="0.7" fill="none" stroke-linejoin="round"/>
<polyline points="20,1050.0 22,1051.1 26,1052.0 31,1052.8 35,1053.9 39,1054.7 44,1055.9 48,1057.0 52,1058.0 57,1058.6 61,1059.0 65,1059.4 70,1059.8 74,1060.2 78,1060.2 83,1058.2 87,1056.1 91,1054.8 96,1053.8 100,1052.5 105,1050.7 109,1048.2 113,1046.1 118,1044.4 122,1041.3 126,1038.1 131,1034.0 135,1029.0 139,1024.0 144,1018.8 148,1012.8 152,1008.0 157,1003.6 161,1000.8 166,997.9 170,994.7 174,991.7 179,989.2 183,982.0 187,972.4 192,959.3 196,947.2 200,935.2 205,923.2 209,914.4 213,905.6 218,899.9 222,892.6 226,885.7 231,879.8 235,873.0 240,866.9 244,861.5 248,858.9 253,857.8 257,856.8 261,856.0 266,858.2 270,860.1 274,861.7 279,858.2 283,857.3 287,855.7 292,854.0 296,852.5 301,852.4 305,853.8 309,853.7 314,852.3 318,849.9 322,848.0 327,844.2 331,837.9 335,829.5 340,819.5 344,807.0 348,797.6 353,786.7 357,777.4 361,767.9 366,760.7 370,756.7 375,752.6 379,749.8 383,745.8 388,743.0 392,741.6 396,737.3 401,731.5 405,728.4 409,723.1 414,720.6 418,718.8 422,715.4 427,712.1 431,710.6 436,710.1 440,708.1 444,706.9 449,703.1 453,698.1 457,690.4 462,682.7 466,678.7 470,675.1 475,673.9 479,672.0 483,670.2 488,669.2 492,666.8 496,662.4 501,654.2 505,648.2 510,637.5 514,626.9 518,613.8 523,597.7 527,576.6 531,557.2 536,540.7 540,524.1 544,512.3 549,501.5 553,490.6 557,481.4 562,479.0 566,481.7 571,481.1 575,477.1 579,474.4 584,469.7 588,464.7 592,463.7 597,463.1 601,467.8 605,469.5 610,472.1 614,479.1 618,485.4 623,488.0 627,488.7 631,490.4 636,488.9 640,485.5 645,480.1 649,476.6 653,474.0 658,472.2 662,471.4 666,470.5 671,471.5 675,470.2 679,466.5 684,461.6 688,457.5 692,452.2 697,446.5 701,443.4 706,438.5 710,434.6 714,425.9 719,421.0 723,416.7 727,413.5 732,411.1 736,411.4 740,411.2 745,409.7 749,408.2 753,405.0 758,397.5 762,391.4 766,385.7 771,386.6 775,375.9 780,365.0 784,356.7 788,341.0 793,329.2 797,317.2 801,313.9 806,311.6 810,309.3 814,305.6 819,300.7 823,296.7 827,295.9 832,295.1 836,294.8 841,294.8 845,292.9 849,289.6 854,287.8 858,288.1 862,290.8 867,290.7 871,290.5 875,292.9 880,291.1 884,288.0 888,284.8 893,284.1 897,282.9 902,282.1 906,280.2 910,279.5 915,278.6 919,277.9 923,277.9 928,277.4 932,278.7 936,280.3 941,280.7 945,283.8 949,287.2 954,294.7 958,300.5 962,306.5 967,320.9 971,334.9 976,345.5 980,354.8 984,369.2 989,381.0 993,386.6 997,392.7 1002,399.6 1006,403.3 1010,400.5 1015,399.1 1019,397.4 1023,392.1 1028,384.9 1032,380.0 1037,375.7 1041,374.5 1045,372.1 1050,371.2 1054,372.0 1058,372.2 1063,373.4 1067,372.7 1071,370.6 1076,369.1 1080,367.8 1084,368.1 1089,370.1 1093,373.5 1097,376.4 1102,379.0 1106,382.5 1111,383.1 1115,382.9 1119,382.9 1124,381.6 1128,382.8 1132,382.4 1137,385.2 1141,386.5 1145,384.5 1150,385.1 1154,385.6 1158,387.6 1163,386.0 1167,387.1 1172,387.7 1176,390.1 1180,393.6 1185,398.0 1189,399.6 1193,403.4 1198,408.0 1202,415.7 1206,421.8 1211,427.1 1215,431.4 1219,439.0 1224,451.7 1228,462.7 1232,470.6 1237,479.1 1241,497.8 1246,504.8 1250,508.1 1254,507.9 1259,507.7 1263,504.2 1267,503.5 1272,506.1 1276,510.0 1280,513.2 1285,516.8 1289,520.8 1293,522.5 1298,526.3 1302,530.7 1307,534.0 1311,534.7 1315,537.5 1320,539.1 1324,543.2 1328,544.6 1333,542.8 1337,542.5 1341,543.3 1346,543.5 1350,540.3 1354,539.0 1359,537.0 1363,536.1 1367,536.1 1372,536.4 1376,536.5 1381,536.3 1385,536.2 1389,537.6 1394,540.1 1398,543.5 1402,547.0 1407,550.2 1411,553.6 1415,555.7 1420,558.4 1424,557.1 1428,558.6 1433,558.4 1437,559.5 1442,560.5 1446,562.3 1450,563.3 1455,564.2 1459,564.1 1463,563.5 1468,563.0 1472,562.2 1476,561.4 1481,561.7 1485,563.2 1489,565.5 1494,566.3 1498,567.1 1502,567.9 1507,571.3 1511,571.9 1516,574.2 1520,576.3 1524,578.4 1529,579.3 1533,579.1 1537,580.7 1542,582.5 1546,583.5 1550,584.4 1555,585.2 1559,583.8 1563,579.0 1568,574.4 1572,568.5 1577,563.9 1581,556.4 1585,551.1 1590,545.9 1594,541.1 1598,531.0 1603,521.1 1607,509.0 1611,496.9 1616,485.0 1620,475.0 1624,465.6 1629,458.7 1633,453.6 1637,448.7 1642,443.4 1646,438.8 1651,435.9 1655,430.1 1659,426.7 1664,422.1 1668,417.7 1672,413.8 1677,410.4 1681,408.4 1685,405.9 1690,402.8 1694,399.0 1698,396.8 1703,395.4 1707,392.7 1712,387.6 1716,390.6 1720,396.4 1725,403.4 1729,409.0 1733,415.3 1738,421.1 1742,427.0 1746,437.7 1751,444.4 1755,451.3 1759,459.5 1764,467.1 1768,472.5 1772,480.2 1777,486.5 1781,490.7 1786,490.9 1790,491.8 1794,494.9 1799,496.5 1803,499.3 1807,502.5 1812,505.2 1816,505.7 1820,506.7 1825,506.0 1829,502.0 1833,495.7 1838,492.1 1842,490.0 1847,487.8 1851,486.4 1855,486.7 1860,488.6 1864,491.4 1868,497.6 1873,500.4 1877,504.0 1881,504.6 1886,504.8 1890,504.3 1894,503.1 1899,500.5 1903,497.0 1907,493.7 1912,488.6 1916,481.5 1921,479.2 1925,471.8 1929,465.1 1934,458.1 1938,453.8 1942,449.6 1947,444.9 1951,437.5 1955,427.9 1960,423.2 1964,416.7 1968,410.8 1973,404.7 1977,400.5 1982,394.3 1986,389.2 1990,386.9 1995,388.2 1999,389.0 2003,389.5 2008,390.0 2012,387.7 2016,387.0 2021,388.2 2025,393.4 2029,393.4 2034,392.8 2038,399.8 2042,404.9 2047,403.5 2051,401.8 2056,403.3 2060,405.7 2064,410.1 2069,415.2 2073,421.6 2077,425.1 2082,428.9 2086,430.5 2090,432.8 2095,435.2 2099,438.4 2103,439.2 2108,442.0 2112,444.0 2117,447.0 2121,450.5 2125,453.8 2130,457.3 2134,458.0 2138,460.8 2143,461.9 2147,463.1 2151,463.0 2156,462.8 2160,462.9 2164,463.8 2169,466.0 2173,466.4 2177,468.2 2182,469.2 2186,469.4 2191,469.9 2195,470.2 2199,470.5 2204,470.1 2208,470.4 2212,469.9 2217,469.0 2221,472.2 2225,477.2 2230,485.2 2234,493.1 2238,496.9 2243,501.5 2247,503.2 2252,504.0 2256,503.3 2260,502.5 2265,502.0 2269,503.5 2273,506.6 2278,507.2 2282,507.4 2286,508.7 2291,510.8 2295,511.5 2299,511.8 2304,509.6 2308,508.1 2312,506.5 2317,504.1 2321,502.5 2326,502.0 2330,502.7 2334,502.9 2339,501.0 2343,498.8 2347,499.7 2352,500.9 2356,501.6 2360,503.0 2365,504.8 2369,506.8 2373,509.7 2378,514.1 2382,518.0 2387,523.9 2391,529.1 2395,533.7 2400,542.6 2404,551.5 2408,572.1 2413,585.6 2417,598.3 2421,605.3 2426,608.5 2430,610.6 2434,614.1 2439,623.9 2443,630.0 2447,634.6 2452,639.4 2456,644.3 2461,648.0 2465,651.3 2469,652.9 2474,655.0 2478,657.9 2482,662.1 2487,664.4 2491,665.5 2495,667.0 2500,668.7" stroke="#ff0000" stroke-width="2.2" stroke-opacity="0.7" fill="none" stroke-linejoin="round"/>
<path d="M22 1059V1067M26 1059V1062M31 1060V1063M35 1061V1064M39 1062V1064M44 1060V1069M48 1065V1069M52 1066V1073M57 1064V1069M61 1062V1064M65 1062V1063M70 1059V1064M74 1057V1065M78 1060V1065M83 1036V1062M87 1032V1041M91 1036V1044M96 1039V1045M100 1039V1045M105 1032V1041M109 1021V1035M113 1025V1032M118 1027V1029M122 1011V1029M126 1006V1014M131 995V1008M135 981V998M139 962V984M144 968V981M148 955V971M152 948V968M157 959V968M161 961V975M166 965V976M170 963V970M174 961V973M179 962V970M183 912V966M187 874V915M192 823V882M196 821V844M200 767V834M205 791V824M209 807V871M213 809V835M218 821V859M222 822V846M226 798V839M231 812V832M235 801V827M240 808V841M244 799V838M248 772V857M253 828V859M257 836V861M261 832V849M266 844V880M270 868V894M274 871V887M279 812V885M283 821V855M287 838V861M292 837V854M296 823V852M301 836V860M305 845V873M309 852V869M314 821V860M318 819V843M322 795V842M327 794V836M331 733V809M335 746V782M340 722V765M344 685V728M348 677V718M353 654V722M357 623V704M361 663V695M366 670V703M370 658V740M375 703V725M379 704V724M383 700V725M388 687V721M392 711V733M396 690V730M401 658V700M405 655V703M409 668V714M414 669V710M418 684V702M422 681V704M427 672V697M431 680V703M436 680V710M440 684V707M444 675V712M449 661V696M453 637V675M457 596V652M462 601V631M466 601V655M470 620V648M475 623V671M479 639V666M483 645V667M488 631V667M492 629V660M496 619V654M501 561V628M505 550V592M510 534V593M514 521V569M518 470V529M523 420V490M527 320V445M531 360V425M536 361V400M540 326V405M544 343V441M549 377V433M553 371V411M557 378V419M562 389V458M566 441V517M571 456V514M575 425V478M579 438V484M584 389V449M588 394V427M592 405V486M597 442V478M601 448V523M605 476V516M610 469V502M614 496V573M618 517V561M623 510V556M627 491V521M631 484V521M636 471V509M640 437V488M645 422V479M649 424V455M653 425V458M658 432V469M662 436V468M666 457V476M671 451V487M675 453V481M679 415V463M684 403V434M688 389V427M692 381V420M697 370V411M701 385V425M706 382V421M710 380V414M714 328V405M719 324V389M723 373V399M727 373V388M732 372V395M736 384V425M740 405V420M745 389V410M749 392V408M753 371V409M758 312V393M762 287V346M766 308V355M771 317V407M775 256V395M780 241V319M784 248V302M788 165V294M793 178V232M797 195V252M801 194V332M806 256V309M810 248V294M814 261V298M819 243V272M823 241V264M827 253V294M832 283V332M836 270V312M841 244V356M845 267V303M849 245V275M854 249V297M858 239V292M862 276V331M867 283V323M871 278V293M875 285V325M880 257V338M884 252V281M888 245V270M893 246V281M897 265V280M902 264V290M906 261V281M910 254V284M915 262V278M919 257V278M923 266V297M928 261V304M932 264V297M936 283V301M941 280V302M945 285V324M949 298V334M954 317V370M958 324V375M962 339V364M967 362V541M971 427V509M976 440V492M980 425V460M984 440V507M989 484V541M993 435V495M997 437V485M1002 442V465M1006 429V465M1010 356V438M1015 368V397M1019 371V390M1023 334V393M1028 295V342M1032 298V342M1037 315V352M1041 320V364M1045 335V364M1050 342V377M1054 360V390M1058 362V385M1063 342V385M1067 358V386M1071 349V369M1076 343V362M1080 339V365M1084 346V374M1089 369V401M1093 388V414M1097 401V421M1102 390V414M1106 389V424M1111 372V417M1115 374V391M1119 373V387M1124 358V412M1128 352V398M1132 371V397M1137 371V415M1141 387V417M1145 350V400M1150 363V391M1154 389V405M1158 390V409M1163 359V407M1167 360V403M1172 370V402M1176 385V422M1180 405V427M1185 425V447M1189 414V445M1193 414V451M1198 406V452M1202 444V497M1206 476V534M1211 470V486M1215 470V492M1219 471V530M1224 505V589M1228 548V597M1232 533V577M1237 542V576M1241 559V675M1246 558V675M1250 529V576M1254 496V548M1259 496V517M1263 461V508M1267 463V503M1272 495V556M1276 529V561M1280 534V556M1285 540V565M1289 547V576M1293 527V559M1298 533V572M1302 547V575M1307 551V587M1311 539V583M1315 537V573M1320 540V567M1324 547V583M1328 547V582M1333 511V559M1337 522V556M1341 534V554M1346 541V557M1350 504V555M1354 505V528M1359 512V536M1363 514V534M1367 520V536M1372 513V541M1376 529V545M1381 533V550M1385 531V545M1389 524V551M1394 550V565M1398 561V584M1402 571V583M1407 571V593M1411 580V594M1415 573V590M1420 565V589M1424 537V584M1428 542V579M1433 551V580M1437 555V576M1442 568V580M1446 565V579M1450 571V580M1455 557V580M1459 555V573M1463 550V567M1468 557V567M1472 554V565M1476 550V562M1481 539V565M1485 563V579M1489 576V594M1494 545V590M1498 567V584M1502 570V582M1507 568V612M1511 577V612M1516 567V597M1520 582V598M1524 591V604M1529 574V599M1533 569V590M1537 575V603M1542 590V602M1546 585V601M1550 586V596M1555 589V606M1559 569V593M1563 518V572M1568 521V540M1572 500V531M1577 505V528M1581 484V524M1585 475V505M1590 491V509M1594 489V500M1598 432V498M1603 417V454M1607 380V428M1611 368V410M1616 356V389M1620 352V383M1624 356V390M1629 372V394M1633 390V409M1637 376V407M1642 389V403M1646 385V398M1651 391V412M1655 356V408M1659 373V395M1664 367V398M1668 371V390M1672 365V385M1677 362V391M1681 374V391M1685 381V395M1690 367V408M1694 355V381M1698 358V377M1703 369V386M1707 366V384M1712 322V368M1716 332V435M1720 401V456M1725 443V470M1729 438V473M1733 458V494M1738 452V483M1742 460V495M1746 479V543M1751 502V542M1755 495V520M1759 512V542M1764 525V553M1768 517V568M1772 517V554M1777 536V565M1781 526V547M1786 485V537M1790 483V505M1794 496V546M1799 498V536M1803 511V527M1807 521V534M1812 523V536M1816 504V538M1820 509V523M1825 498V521M1829 444V503M1833 426V472M1838 435V463M1842 452V481M1847 455V475M1851 461V477M1855 472V495M1860 465V511M1864 493V524M1868 517V557M1873 512V572M1877 522V549M1881 500V543M1886 500V516M1890 491V510M1894 468V501M1899 462V499M1903 450V487M1907 461V472M1912 429V471M1916 409V448M1921 407V465M1925 391V467M1929 385V413M1934 378V413M1938 390V425M1942 400V415M1947 399V435M1951 356V410M1955 329V368M1960 334V387M1964 346V383M1968 338V362M1973 340V362M1977 344V371M1982 325V362M1986 310V347M1990 327V371M1995 359V407M1999 392V416M2003 374V405M2008 390V413M2012 365V407M2016 322V383M2021 375V405M2025 399V454M2029 377V443M2034 380V398M2038 379V492M2042 449V496M2047 379V466M2051 369V399M2056 381V427M2060 404V487M2064 429V463M2069 447V477M2073 463V489M2077 457V504M2082 451V479M2086 434V467M2090 444V461M2095 442V461M2099 453V471M2103 446V479M2108 442V475M2112 456V479M2117 455V480M2121 470V495M2125 482V496M2130 483V504M2134 458V501M2138 449V492M2143 456V493M2147 468V492M2151 451V480M2156 454V464M2160 453V472M2164 460V474M2169 468V489M2173 470V492M2177 469V486M2182 478V488M2186 469V484M2191 467V479M2195 471V482M2199 473V483M2204 466V476M2208 465V478M2212 464V474M2217 459V470M2221 460V503M2225 497V536M2230 524V589M2234 556V580M2238 525V568M2243 525V555M2247 508V546M2252 510V528M2256 492V513M2260 488V510M2265 488V509M2269 495V523M2273 517V547M2278 512V536M2282 504V517M2286 508V527M2291 520V539M2295 504V548M2299 495V527M2304 488V517M2308 486V500M2312 489V499M2317 470V503M2321 477V493M2326 486V497M2330 494V515M2334 492V517M2339 481V510M2343 474V493M2347 475V511M2352 504V519M2356 499V515M2360 500V517M2365 514V533M2369 517V533M2373 520V542M2378 533V561M2382 540V580M2387 554V581M2391 560V583M2395 565V588M2400 576V653M2404 615V685M2408 635V903M2413 711V796M2417 713V747M2421 662V754M2426 636V680M2430 618V662M2434 622V653M2439 645V717M2443 677V716M2447 660V689M2452 649V686M2456 675V711M2461 677V695M2465 677V693M2469 667V689M2474 661V682M2478 671V705M2482 683V708M2487 683V702M2491 671V687M2495 671V687M2500 679V686" stroke="#000" stroke-width="2" fill="none"/>
<path d="M22 1062V1064M26 1060V1062M31 1061V1063M35 1062V1064M39 1062V1064M44 1062V1068M48 1065V1067M52 1066V1068M57 1064V1068M61 1062V1064M65 1062V1064M70 1060V1064M74 1059V1064M78 1060V1064M83 1038V1062M87 1036V1038M91 1037V1043M96 1039V1044M100 1040V1044M105 1034V1041M109 1025V1035M113 1026V1031M118 1027V1029M122 1012V1028M126 1007V1011M131 995V1007M135 981V996M139 976V982M144 970V976M148 956V970M152 957V962M157 960V962M161 961V974M166 970V974M170 964V969M174 964V968M179 964V966M183 913V965M187 881V915M192 835V882M196 833V835M200 821V833M205 809V822M209 808V830M213 822V830M218 821V846M222 823V846M226 820V824M231 820V824M235 809V824M240 809V827M244 810V828M248 810V835M253 834V847M257 843V847M261 842V848M266 847V880M270 878V880M274 877V881M279 825V878M283 825V849M287 840V849M292 838V845M296 838V845M301 838V851M305 850V868M309 852V868M314 839V853M318 827V841M322 827V830M327 808V831M331 778V808M335 750V778M340 725V751M344 689V725M348 689V708M353 684V708M357 683V689M361 677V689M366 677V693M370 693V718M375 714V718M379 714V723M383 707V724M388 707V717M392 716V728M396 697V729M401 675V698M405 675V700M409 672V700M414 672V697M418 685V701M422 683V702M427 681V685M431 681V697M436 696V705M440 689V705M444 689V695M449 667V695M453 650V668M457 617V651M462 609V617M466 609V641M470 639V641M475 640V662M479 654V662M483 652V654M488 653V659M492 644V659M496 620V645M501 576V620M505 577V591M510 536V592M514 527V538M518 489V528M523 444V490M527 376V444M531 373V375M536 374V384M540 367V384M544 367V400M549 398V400M553 386V401M557 386V395M562 395V456M566 456V507M571 475V507M575 439V476M579 439V449M584 425V448M588 417V426M592 417V455M597 454V458M601 457V512M605 486V512M610 486V497M614 496V545M618 543V545M623 513V545M627 495V513M631 496V506M636 475V507M640 453V476M645 429V453M649 429V443M653 444V450M658 450V455M662 454V463M666 461V463M671 462V480M675 458V480M679 431V459M684 415V431M688 415V419M692 401V419M697 392V403M701 392V414M706 392V414M710 392V397M714 343V397M719 343V375M723 374V376M727 376V383M732 382V388M736 388V414M740 409V414M745 395V410M749 392V394M753 375V394M758 326V375M762 325V334M766 331V333M771 332V395M775 274V394M780 262V274M784 262V278M788 191V278M793 191V218M797 204V218M801 203V282M806 281V290M810 287V290M814 271V288M819 254V272M823 254V259M827 258V289M832 287V289M836 288V292M841 292V295M845 275V295M849 258V275M854 258V270M858 269V291M862 290V316M867 290V316M871 289V291M875 289V315M880 275V315M884 258V275M888 254V258M893 254V278M897 271V278M902 271V275M906 262V275M910 262V273M915 269V271M919 269V271M923 271V278M928 273V278M932 273V291M936 290V295M941 285V295M945 285V313M949 312V319M954 318V366M958 356V366M962 356V363M967 363V458M971 457V468M976 446V468M980 443V447M984 443V506M989 493V506M993 440V493M997 440V451M1002 450V465M1006 438V465M1010 374V438M1015 374V386M1019 381V386M1023 341V382M1028 317V341M1032 317V334M1037 332V335M1041 335V363M1045 349V363M1050 349V363M1054 363V380M1058 374V380M1063 374V385M1067 366V385M1071 350V366M1076 350V355M1080 354V356M1084 355V371M1089 371V388M1093 388V406M1097 404V406M1102 403V405M1106 404V416M1111 389V416M1115 381V390M1119 380V383M1124 369V383M1128 370V394M1132 378V394M1137 378V411M1141 399V411M1145 366V400M1150 366V390M1154 389V391M1158 391V407M1163 370V407M1167 370V397M1172 393V395M1176 394V413M1180 413V427M1185 426V440M1189 414V440M1193 414V440M1198 439V452M1202 451V489M1206 480V489M1211 477V480M1215 472V477M1219 472V512M1224 512V572M1228 568V572M1232 546V568M1237 546V560M1241 559V675M1246 571V675M1250 540V572M1254 505V541M1259 504V506M1263 470V506M1267 470V497M1272 496V531M1276 531V546M1280 544V546M1285 545V551M1289 550V559M1293 539V559M1298 538V562M1302 561V573M1307 565V573M1311 542V565M1315 542V564M1320 554V564M1324 554V582M1328 558V582M1333 526V558M1337 526V540M1341 539V551M1346 546V551M1350 510V547M1354 510V527M1359 518V527M1363 518V528M1367 527V536M1372 535V540M1376 537V539M1381 535V538M1385 535V537M1389 535V551M1394 550V564M1398 563V576M1402 575V581M1407 579V581M1411 580V585M1415 576V585M1420 576V583M1424 545V583M1428 545V573M1433 556V573M1437 556V570M1442 568V570M1446 572V579M1450 573V579M1455 571V573M1459 563V573M1463 559V565M1468 557V559M1472 555V558M1476 554V556M1481 554V564M1485 564V578M1489 576V587M1494 574V588M1498 574V576M1502 574V576M1507 576V604M1511 577V604M1516 577V596M1520 583V597M1524 596V598M1529 588V598M1533 577V589M1537 577V595M1542 594V600M1546 593V600M1550 592V594M1555 591V593M1559 571V593M1563 534V571M1568 531V535M1572 512V531M1577 512V520M1581 486V520M1585 486V500M1590 496V498M1594 496V499M1598 435V497M1603 427V436M1607 393V427M1611 382V394M1616 372V383M1620 372V380M1624 376V380M1629 376V394M1633 393V405M1637 402V405M1642 394V402M1646 393V395M1651 396V408M1655 375V408M1659 375V394M1664 378V394M1668 376V378M1672 376V378M1677 376V378M1681 378V390M1685 382V390M1690 373V383M1694 364V373M1698 364V376M1703 376V382M1707 367V382M1712 339V367M1716 339V419M1720 419V452M1725 451V469M1729 463V469M1733 462V475M1738 474V476M1742 475V483M1746 483V539M1751 508V539M1755 508V517M1759 517V538M1764 537V539M1768 523V539M1772 523V553M1777 546V553M1781 531V546M1786 493V532M1790 492V500M1794 500V524M1799 511V524M1803 511V526M1807 522V533M1812 531V533M1816 510V532M1820 510V516M1825 499V517M1829 464V499M1833 436V465M1838 436V458M1842 457V470M1847 467V470M1851 466V472M1855 472V490M1860 489V507M1864 507V518M1868 517V557M1873 527V557M1877 527V539M1881 510V539M1886 506V510M1890 499V507M1894 491V500M1899 476V492M1903 463V477M1907 461V463M1912 439V462M1916 415V440M1921 415V457M1925 402V457M1929 400V402M1934 391V403M1938 391V413M1942 410V414M1947 399V410M1951 367V399M1955 337V368M1960 336V379M1964 354V379M1968 353V355M1973 347V356M1977 347V361M1982 336V361M1986 336V341M1990 340V365M1995 365V401M1999 396V401M2003 394V396M2008 393V395M2012 365V395M2016 366V381M2021 381V399M2025 399V443M2029 394V443M2034 387V394M2038 386V467M2042 453V467M2047 390V454M2051 385V390M2056 385V418M2060 417V429M2064 429V452M2069 451V464M2073 463V482M2077 459V482M2082 459V465M2086 446V466M2090 446V455M2095 455V457M2099 457V469M2103 447V469M2108 447V468M2112 463V468M2117 463V475M2121 475V484M2125 483V485M2130 485V490M2134 464V490M2138 464V488M2143 472V488M2147 472V475M2151 462V475M2156 459V461M2160 460V464M2164 463V472M2169 471V487M2173 471V487M2177 471V485M2182 478V482M2186 471V479M2191 470V475M2195 474V481M2199 474V482M2204 466V475M2208 466V473M2212 466V473M2217 460V468M2221 460V503M2225 502V525M2230 524V562M2234 561V568M2238 533V568M2243 533V546M2247 519V546M2252 511V520M2256 497V513M2260 495V499M2265 494V496M2269 496V518M2273 518V536M2278 513V536M2282 510V514M2286 510V521M2291 520V530M2295 518V530M2299 515V518M2304 489V515M2308 489V493M2312 491V493M2317 481V492M2321 481V488M2326 488V496M2330 496V510M2334 504V510M2339 482V505M2343 478V483M2347 478V509M2352 508V512M2356 509V512M2360 509V516M2365 515V521M2369 519V526M2373 525V537M2378 537V556M2382 555V579M2387 555V580M2391 568V578M2395 575V578M2400 577V627M2404 626V636M2408 635V768M2413 714V768M2417 714V719M2421 672V719M2426 639V672M2430 630V640M2434 630V648M2439 647V716M2443 688V716M2447 678V689M2452 678V685M2456 684V691M2461 683V691M2465 681V683M2469 668V685M2474 668V675M2478 674V686M2482 686V702M2487 686V702M2491 677V686M2495 677V681M2500 680V686" stroke="#000" stroke-width="4" fill="none"/>
<path d="M20 685H2546" stroke="#000" stroke-width="2" stroke-dasharray="2 4" fill="none"/>
</g>
<text x="35.9" y="93.8" fill="#131722" stroke="#131722" stroke-width="0.25" letter-spacing="0.533">Cardano</text>
<text x="140.3" y="93.8" fill="#131722" stroke="#131722" stroke-width="0.25" letter-spacing="0.000">/</text>
<text x="154.2" y="93.8" fill="#131722" stroke="#131722" stroke-width="0.25" letter-spacing="0.225">TetherUS,</text>
<text x="272.2" y="93.8" fill="#131722" stroke="#131722" stroke-width="0.25" letter-spacing="1.250">4h,</text>
<text x="314.1" y="93.8" fill="#131722" stroke="#131722" stroke-width="0.25" letter-spacing="-0.217">BINANCE</text>
<text x="433.4" y="93.8" fill="#131722" stroke="#131722" stroke-width="0.25" letter-spacing="0.817">O0.7556</text>
<text x="544.2" y="93.8" fill="#131722" stroke="#131722" stroke-width="0.25" letter-spacing="0.617">H0.7570</text>
<text x="652.6" y="93.8" fill="#131722" stroke="#131722" stroke-width="0.25" letter-spacing="0.900">L0.7486</text>
<text x="758.8" y="93.8" fill="#131722" stroke="#131722" stroke-width="0.25" letter-spacing="0.667">C0.7502</text>
<text x="868.2" y="93.8" fill="#131722" stroke="#131722" stroke-width="0.25" letter-spacing="1.300">−0.0053</text>
<text x="971.8" y="93.8" fill="#131722" stroke="#131722" stroke-width="0.25" letter-spacing="0.571">(−0.70%)</text>
<text x="1089.7" y="93.8" fill="#131722" stroke="#131722" stroke-width="0.25" letter-spacing="-0.117">Vol1.35</text>
<text x="1174.1" y="93.8" fill="#131722" stroke="#131722" stroke-width="0.25" letter-spacing="0.000">M</text>
<text x="34.9" y="127.8" fill="#131722" stroke="#131722" stroke-width="0.25" letter-spacing="-0.150">EMA</text>
<text x="94.8" y="127.8" fill="#131722" stroke="#131722" stroke-width="0.25" letter-spacing="1.000">20/50/100/200</text>
<text x="275.6" y="127.8" fill="#ff0000" stroke="#ff0000" stroke-width="0.25" letter-spacing="1.060">0.7686</text>
<text x="368.8" y="127.8" fill="#ff8000" stroke="#ff8000" stroke-width="0.25" letter-spacing="1.060">0.8267</text>
<text x="461.7" y="127.8" fill="#00ffff" stroke="#00ffff" stroke-width="0.25" letter-spacing="1.220">0.8842</text>
<text x="555.6" y="127.8" fill="#0000ff" stroke="#0000ff" stroke-width="0.25" letter-spacing="1.260">0.9264</text>
<rect x="2554" y="62" width="128" height="52" rx="9" fill="#fff" stroke="#eff1f3" stroke-width="1.3"/>
<text x="2571.0" y="96.3" fill="#131722" stroke="#131722" stroke-width="0.25" letter-spacing="0.000">USDT</text>
<path d="M2548 293H2655a3 3 0 0 1 3 3V324a3 3 0 0 1 -3 3H2548Z" fill="#2962ff"/>
<text x="2564.6" y="318.4" fill="#fff" stroke="#fff" stroke-width="0.2" letter-spacing="1.75">1.1662</text>
<path d="M2548 409H2655a3 3 0 0 1 3 3V440a3 3 0 0 1 -3 3H2548Z" fill="#2962ff"/>
<text x="2564.6" y="434.4" fill="#fff" stroke="#fff" stroke-width="0.2" letter-spacing="1.75">1.0369</text>
<path d="M2548 596H2655a3 3 0 0 1 3 3V627a3 3 0 0 1 -3 3H2548Z" fill="#2962ff"/>
<text x="2564.6" y="621.4" fill="#fff" stroke="#fff" stroke-width="0.2" letter-spacing="1.75">0.8296</text>
<path d="M2548 755H2655a3 3 0 0 1 3 3V786a3 3 0 0 1 -3 3H2548Z" fill="#f23645"/>
<text x="2564.6" y="780.4" fill="#fff" stroke="#fff" stroke-width="0.2" letter-spacing="1.75">0.6541</text>
<path d="M2548 877H2655a3 3 0 0 1 3 3V908a3 3 0 0 1 -3 3H2548Z" fill="#f23645"/>
<text x="2564.6" y="902.4" fill="#fff" stroke="#fff" stroke-width="0.2" letter-spacing="1.75">0.5192</text>
<path d="M2548 1056H2655a3 3 0 0 1 3 3V1087a3 3 0 0 1 -3 3H2548Z" fill="#f23645"/>
<text x="2564.6" y="1081.4" fill="#fff" stroke="#fff" stroke-width="0.2" letter-spacing="1.75">0.3201</text>
<path d="M2548 668H2676a4 4 0 0 1 4 4V726a4 4 0 0 1 -4 4H2548Z" fill="#000"/>
<text x="2564.6" y="692.8" fill="#fff" stroke="#fff" stroke-width="0.2" letter-spacing="1.75">0.7502</text>
<text x="2565.1" y="721" fill="#c4c4c4" stroke="#c4c4c4" stroke-width="0.2" letter-spacing="1.47">03:47:16</text>
<g fill="#dcdcdc"><path d="M20 1244.3H36.5V1263.8H27.6V1252.1H20Z"/><circle cx="42.2" cy="1248.2" r="3.8"/><path d="M48.3 1244.3H59L51.2 1263.8H40.7Z"/></g>
<text x="67" y="1264.2" fill="#dcdcdc" stroke="#dcdcdc" stroke-width="0.7" style="font-size:26px" letter-spacing="0.5">TradingView</text>
</svg></body></html>
